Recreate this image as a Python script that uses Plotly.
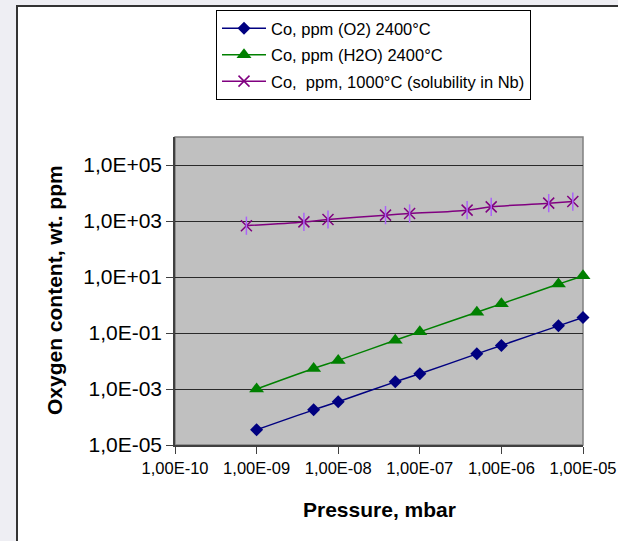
import plotly.graph_objects as go

# Pressure (mbar) and oxygen content (wt. ppm)
p_o2 = [1e-9, 5e-9, 1e-8, 5e-8, 1e-7, 5e-7, 1e-6, 5e-6, 1e-5]
c_o2 = [3.5e-5, 1.8e-4, 3.5e-4, 1.8e-3, 3.5e-3, 1.8e-2, 3.6e-2, 1.8e-1, 3.6e-1]

p_h2o = [1e-9, 5e-9, 1e-8, 5e-8, 1e-7, 5e-7, 1e-6, 5e-6, 1e-5]
c_h2o = [1.0e-3, 5.4e-3, 1.05e-2, 5.5e-2, 0.11, 0.55, 1.1, 5.6, 11]

p_nb = [7.5e-10, 3.8e-9, 7.5e-9, 3.8e-8, 7.5e-8, 3.8e-7, 7.5e-7, 3.8e-6, 7.5e-6]
c_nb = [680, 930, 1130, 1620, 1850, 2440, 3200, 4340, 4940]

names = ["Co, ppm (O2) 2400°C",
         "Co, ppm (H2O) 2400°C",
         "Co,\u00a0 ppm, 1000°C (solubility in Nb)"]

x_tickvals = [1e-10, 1e-9, 1e-8, 1e-7, 1e-6, 1e-5]
x_ticktext = ["1,00E-10", "1,00E-09", "1,00E-08", "1,00E-07", "1,00E-06", "1,00E-05"]
y_tickvals = [1e-5, 1e-3, 1e-1, 1e1, 1e3, 1e5]
y_ticktext = ["1,0E-05", "1,0E-03", "1,0E-01", "1,0E+01", "1,0E+03", "1,0E+05"]

FONT = "Liberation Sans, Arial, sans-serif"
W, H = 618, 541
L, R, T, B = 175, 35, 137, 96
PW, PH = W - L - R, H - T - B


def px(x):
    return (x - L) / PW


def py(y):
    return (H - B - y) / PH


fig = go.Figure()

fig.add_trace(go.Scatter(
    x=p_o2, y=c_o2, name=names[0], mode="lines+markers",
    line=dict(color="#000080", width=1.5, shape="spline"),
    marker=dict(symbol="diamond", size=10, color="#000080"),
    cliponaxis=False, legendgroup="a"))

fig.add_trace(go.Scatter(
    x=p_h2o, y=c_h2o, name=names[1], mode="lines+markers",
    line=dict(color="#008000", width=1.5, shape="spline"),
    marker=dict(symbol="triangle-up", size=13, color="#008000"),
    cliponaxis=False, legendgroup="b"))

fig.add_trace(go.Scatter(
    x=p_nb, y=c_nb, name=names[2], mode="lines+markers",
    line=dict(color="#800080", width=1.5, shape="spline"),
    marker=dict(symbol="x-thin-open", size=11,
                line=dict(color="#800080", width=1.5)),
    cliponaxis=False, legendgroup="c"))

# vertical stroke of the star markers
fig.add_trace(go.Scatter(
    x=p_nb, y=c_nb, mode="markers", showlegend=False, hoverinfo="skip",
    marker=dict(symbol="line-ns-open", size=13,
                line=dict(color="#800080", width=1.5)),
    cliponaxis=False, legendgroup="c"))

shapes = [
    # grey surround and dark frame of the chart sheet
    dict(type="rect", xref="paper", yref="paper",
         x0=px(-5), x1=px(17), y0=py(560), y1=py(-5),
         fillcolor="#eeeef3", line=dict(width=0), layer="below"),
    dict(type="rect", xref="paper", yref="paper",
         x0=px(-5), x1=px(630), y0=py(5), y1=py(-5),
         fillcolor="#eeeef3", line=dict(width=0), layer="below"),
    dict(type="line", xref="paper", yref="paper",
         x0=px(17), x1=px(17), y0=py(5), y1=py(560),
         line=dict(color="#333333", width=2)),
    dict(type="line", xref="paper", yref="paper",
         x0=px(16), x1=px(630), y0=py(6), y1=py(6),
         line=dict(color="#333333", width=2)),
    # plot area border
    dict(type="rect", xref="paper", yref="paper",
         x0=0, x1=1, y0=0, y1=1,
         line=dict(color="#808080", width=1.5), layer="below"),
]

annotations = [
    dict(text="<b>Oxygen content, wt. ppm</b>", textangle=-90,
         xref="paper", yref="paper", x=px(54), y=py(290),
         xanchor="center", yanchor="middle", showarrow=False,
         font=dict(family=FONT, size=21, color="#000000")),
    dict(text="<b>Pressure, mbar</b>",
         xref="paper", yref="paper", x=px(379), y=py(509),
         xanchor="center", yanchor="middle", showarrow=False,
         font=dict(family=FONT, size=21, color="#000000")),
]

fig.update_layout(
    width=W, height=H,
    margin=dict(l=L, r=R, t=T, b=B, pad=0, autoexpand=False),
    paper_bgcolor="#ffffff",
    plot_bgcolor="#c0c0c0",
    font=dict(family=FONT, color="#000000"),
    shapes=shapes,
    annotations=annotations,
    showlegend=True,
    legend=dict(
        x=px(216), y=py(10), xanchor="left", yanchor="top",
        bgcolor="#ffffff", bordercolor="#000000", borderwidth=1,
        font=dict(family=FONT, size=16.5, color="#000000"),
        traceorder="grouped", tracegroupgap=2, itemwidth=44,
    ),
    xaxis=dict(
        type="log", range=[-10, -5], automargin=False,
        tickvals=x_tickvals, ticktext=x_ticktext,
        tickfont=dict(family=FONT, size=16.5, color="#000000"),
        ticks="outside", ticklen=7, tickcolor="#404040", tickwidth=1,
        showline=True, linecolor="#404040", linewidth=1.5,
        showgrid=False, zeroline=False,
    ),
    yaxis=dict(
        type="log", range=[-5, 6], automargin=False,
        tickvals=y_tickvals, ticktext=y_ticktext,
        tickfont=dict(family=FONT, size=21, color="#000000"),
        ticks="outside", ticklen=7, tickcolor="#404040", tickwidth=1,
        showline=True, linecolor="#404040", linewidth=1.5,
        showgrid=True, gridcolor="#2a2a2a", gridwidth=1,
        zeroline=False,
    ),
)

fig.write_html("out.html")
